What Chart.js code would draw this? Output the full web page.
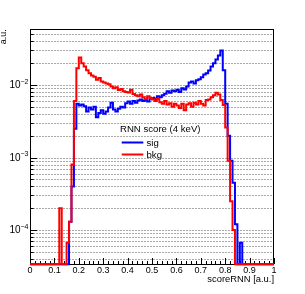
<!DOCTYPE html>
<html>
<head>
<meta charset="utf-8">
<script src="https://cdn.jsdelivr.net/npm/chart.js@4/dist/chart.umd.min.js"></script>
<style>
  html, body { margin: 0; padding: 0; background: #fff; }
</style>
</head>
<body>
<canvas id="c" width="305" height="294"></canvas>
<script>
// histogram contents, 100 bins of 0.01 on scoreRNN [0, 1]
const BIN_WIDTH = 0.01
const SIG = [
    0, 0, 0, 0, 0, 0, 0, 0, 0, 0,
    0, 0, 0, 0, 0, 0, 0.00013, 0.0004, 0.0025, 0.0055,
    0.0052, 0.0054, 0.0051, 0.0043, 0.0049, 0.0046, 0.0050, 0.0036, 0.0041, 0.0045,
    0.0040, 0.0043, 0.0049, 0.0057, 0.0046, 0.0043, 0.0047, 0.0050, 0.0049, 0.0056,
    0.0059, 0.0055, 0.0060, 0.0057, 0.0061, 0.0063, 0.0060, 0.0062, 0.0059, 0.0065,
    0.0066, 0.0064, 0.0070, 0.0068, 0.0072, 0.0076, 0.0082, 0.0078, 0.0084, 0.0082,
    0.0086, 0.0080, 0.0090, 0.0087, 0.0095, 0.0108, 0.0112, 0.0105, 0.0116, 0.0120,
    0.0128, 0.0140, 0.0145, 0.0158, 0.0180, 0.0200, 0.0225, 0.0255, 0.0300, 0.0160,
    0.0055, 0.0020, 0.0009, 0.00045, 0.00012, 0, 0.000067, 0, 0, 0,
    0, 0, 0, 0, 0, 0, 0, 0, 0, 0
]
const BKG = [
    0, 0, 0, 0, 0, 0, 0, 0, 0, 0,
    0, 0, 0.0002, 0, 0, 0.000067, 0.00013, 0.0008, 0.006, 0.017,
    0.024, 0.020, 0.018, 0.016, 0.0145, 0.0135, 0.0130, 0.0118, 0.0125, 0.0112,
    0.0108, 0.0105, 0.0102, 0.0095, 0.0090, 0.0093, 0.0085, 0.0088, 0.0082, 0.0080,
    0.0079, 0.0086, 0.0075, 0.0072, 0.0070, 0.0074, 0.0068, 0.0064, 0.0070, 0.0066,
    0.0063, 0.0060, 0.0064, 0.0058, 0.0055, 0.0060, 0.0054, 0.0056, 0.0050, 0.0055,
    0.0052, 0.0048, 0.0055, 0.0045, 0.0054, 0.0056, 0.0050, 0.0057, 0.0054, 0.0060,
    0.0055, 0.0052, 0.0062, 0.0063, 0.0068, 0.0072, 0.0078, 0.0074, 0.0062, 0.0053,
    0.0026, 0.0009, 0.00025, 0.0001, 0, 0, 0, 0, 0, 0,
    0, 0, 0, 0, 0, 0, 0, 0, 0, 0
]
const SERIES_LABELS = ['sig', 'bkg']
const LEGEND_HEADER = 'RNN score (4 keV)'

// axis ranges and ticks
const Y_MIN = 3.37e-5
const Y_MAX = 0.0586
const Y_GRID = [
    4e-5, 5e-5, 6e-5, 7e-5, 8e-5, 9e-5,
    1e-4, 2e-4, 3e-4, 4e-4, 5e-4, 6e-4, 7e-4, 8e-4, 9e-4,
    1e-3, 2e-3, 3e-3, 4e-3, 5e-3, 6e-3, 7e-3, 8e-3, 9e-3,
    1e-2, 2e-2, 3e-2, 4e-2, 5e-2
]
const Y_DECADES = [1e-4, 1e-3, 1e-2]
const Y_EXPONENTS = ['\u22124', '\u22123', '\u22122']
const X_STEP = 0.1
const X_MINOR = 0.02

const FONT = 'Liberation Sans'
Chart.defaults.font.family = FONT

// empty bins sit on the floor of the log axis, like ROOT does
function to_steps(values) {
    let pts = values.map((v, i) => ({ x: i * BIN_WIDTH, y: v > 0 ? v : Y_MIN }))
    pts.push({ x: values.length * BIN_WIDTH, y: pts[pts.length - 1].y })
    return pts
}

const framePlugin = {
    id: 'frame',
    beforeDatasetsDraw(chart) {
        const { ctx, chartArea: a, scales } = chart
        const x = scales.x, y = scales.y
        const L = Math.round(a.left), R = Math.round(a.right)
        const T = Math.round(a.top), B = Math.round(a.bottom)
        ctx.save()
        // dotted grid
        ctx.strokeStyle = '#aaaaaa'
        ctx.lineWidth = 1
        ctx.setLineDash([2, 1])
        Y_GRID.forEach(v => {
            let py = Math.round(y.getPixelForValue(v)) + 0.5
            ctx.beginPath()
            ctx.moveTo(L, py)
            ctx.lineTo(R, py)
            ctx.stroke()
        })
        ctx.setLineDash([])
        // frame
        ctx.strokeStyle = '#000'
        ctx.strokeRect(L + 0.5, T + 0.5, R - L - 1, B - T)
        // x ticks
        for (let k = 0; k * X_MINOR <= 1.0001; k++) {
            let v = k * X_MINOR
            let len = (k % 5 == 0) ? 6 : 3
            let px = Math.round(x.getPixelForValue(v)) + 0.5
            ctx.beginPath()
            ctx.moveTo(px, B)
            ctx.lineTo(px, B - len)
            ctx.stroke()
        }
        // y ticks
        Y_GRID.forEach(v => {
            let len = Y_DECADES.includes(v) ? 7 : 3.5
            let py = Math.round(y.getPixelForValue(v)) + 0.5
            ctx.beginPath()
            ctx.moveTo(L, py)
            ctx.lineTo(L + len, py)
            ctx.stroke()
        })
        // y labels 10^n
        ctx.fillStyle = '#000'
        ctx.textBaseline = 'middle'
        Y_DECADES.forEach((v, i) => {
            let py = y.getPixelForValue(v)
            ctx.font = '7px "' + FONT + '"'
            ctx.textAlign = 'right'
            let ew = ctx.measureText(Y_EXPONENTS[i]).width
            ctx.fillText(Y_EXPONENTS[i], 28.5, py - 3)
            ctx.font = '10px "' + FONT + '"'
            ctx.fillText('10', 28.5 - ew, py + 0.5)
        })
        ctx.restore()
    },
    afterDatasetsDraw(chart) {
        const { ctx } = chart
        ctx.save()
        ctx.fillStyle = '#000'
        ctx.textBaseline = 'middle'
        ctx.textAlign = 'left'
        ctx.font = '9.6px "' + FONT + '"'
        ctx.fillText(LEGEND_HEADER, 120, 129)
        let entries = chart.data.datasets.slice().sort((a, b) => SERIES_LABELS.indexOf(a.label) - SERIES_LABELS.indexOf(b.label))
        entries.forEach((ds, i) => {
            let ly = 142.5 + i * 12
            ctx.strokeStyle = ds.borderColor
            ctx.lineWidth = 2
            ctx.beginPath()
            ctx.moveTo(121.7, ly)
            ctx.lineTo(143.3, ly)
            ctx.stroke()
            ctx.fillText(ds.label, 146.5, ly + 0.5)
        })
        ctx.restore()
    }
}

new Chart(document.getElementById('c'), {
    type: 'line',
    data: {
        datasets: [
            {
                label: SERIES_LABELS[0],
                data: to_steps(SIG),
                borderColor: '#0000ff',
                borderWidth: 2,
                stepped: true,
                pointRadius: 0,
                fill: false,
                clip: false,
                order: 1
            },
            {
                label: SERIES_LABELS[1],
                data: to_steps(BKG),
                borderColor: '#ff0000',
                borderWidth: 2,
                stepped: true,
                pointRadius: 0,
                fill: false,
                clip: false,
                order: 0
            }
        ]
    },
    options: {
        responsive: false,
        animation: false,
        layout: { padding: { top: 29.3, right: 31, left: 0, bottom: 0 } },
        plugins: { legend: { display: false }, tooltip: { enabled: false } },
        scales: {
            x: {
                type: 'linear',
                min: 0,
                max: 1,
                grid: { display: false, drawTicks: false },
                border: { display: false },
                ticks: {
                    stepSize: X_STEP,
                    autoSkip: false,
                    maxRotation: 0,
                    padding: 1,
                    color: '#000',
                    font: { size: 9 },
                    callback: v => String(+v.toFixed(1))
                },
                title: {
                    display: true,
                    text: 'scoreRNN [a.u.]',
                    align: 'end',
                    color: '#000',
                    font: { size: 9.4, lineHeight: 1.2 },
                    padding: { top: 0, bottom: 9 }
                },
                afterFit: s => { s.height = 29.7 }
            },
            y: {
                type: 'logarithmic',
                min: Y_MIN,
                max: Y_MAX,
                grid: { display: false, drawTicks: false },
                border: { display: false },
                ticks: { display: false },
                afterBuildTicks: s => { s.ticks = Y_GRID.map(v => ({ value: v })) },
                title: {
                    display: true,
                    text: 'a.u.',
                    align: 'end',
                    color: '#000',
                    font: { size: 9, lineHeight: 0.75 },
                    padding: 0
                },
                afterFit: s => { s.width = 30 }
            }
        }
    },
    plugins: [framePlugin]
})
</script>
</body>
</html>
